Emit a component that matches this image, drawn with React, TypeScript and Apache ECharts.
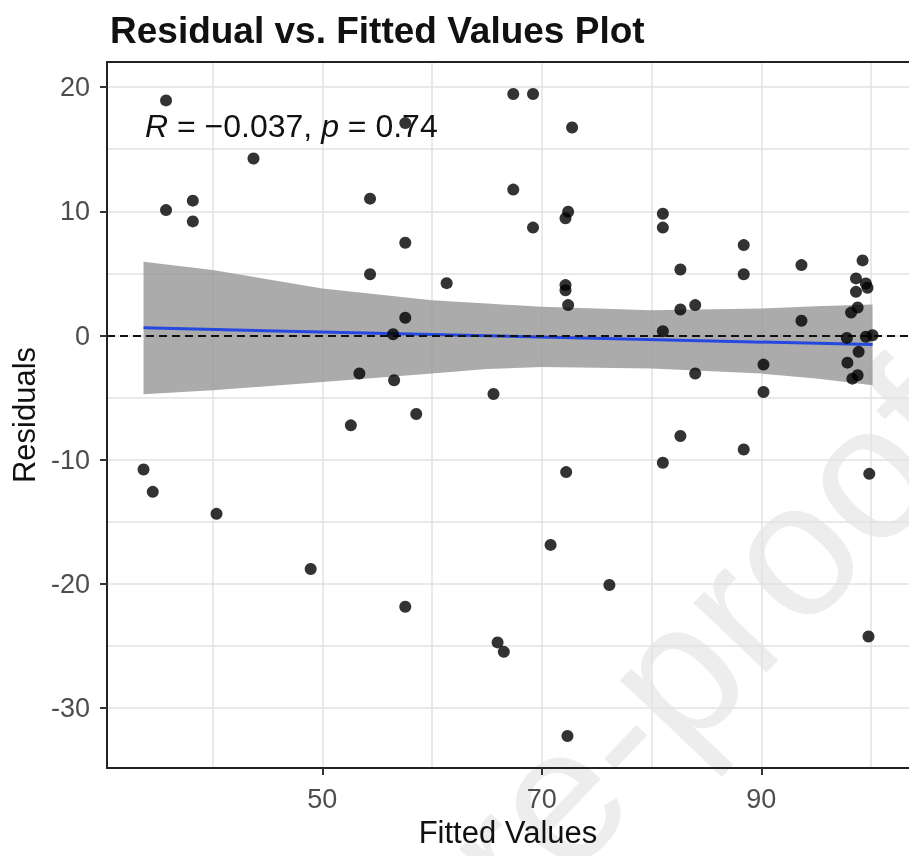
import React, { useEffect, useRef } from 'react';
import * as echarts from 'echarts';

const FONT = "'Liberation Sans', Arial, sans-serif";

const fittedValues = [
  35.76, 35.76, 38.2, 38.2, 43.73, 54.35, 57.56, 57.56, 54.35, 61.33,
  57.56, 56.45, 33.71, 34.55, 40.36, 48.94, 53.38, 52.6, 56.54, 58.56,
  57.56, 67.4, 69.2, 72.76, 67.4, 69.2, 72.4, 72.16, 72.16, 72.16,
  72.4, 81.03, 81.03, 82.63, 82.63, 83.98, 81.03, 88.4, 88.4, 93.66,
  93.66, 99.23, 98.63, 99.53, 99.68, 98.63, 98.78, 98.18, 97.8, 99.53,
  100.14, 65.6, 72.22, 70.8, 76.16, 83.98, 82.63, 81.03, 88.4, 90.2,
  90.2, 98.87, 97.85, 98.3, 98.78, 99.84, 65.97, 66.54, 72.34, 99.77,
];
const residuals = [
  18.93, 10.1, 10.86, 9.19, 14.25, 11.02, 17.1, 7.47, 4.94, 4.22,
  1.43, 0.1, -10.78, -12.58, -14.35, -18.79, -3.06, -7.23, -3.6, -6.32,
  -21.83, 19.44, 19.44, 16.75, 11.75, 8.69, 9.97, 9.44, 4.06, 3.65,
  2.45, 9.81, 8.69, 5.32, 2.1, 2.45, 0.35, 7.28, 4.94, 5.67,
  1.19, 6.05, 4.6, 4.19, 3.85, 3.52, 2.26, 1.85, -0.19, -0.1,
  0.03, -4.7, -10.99, -16.85, -20.08, -3.06, -8.09, -10.24, -9.17, -2.34,
  -4.54, -1.31, -2.18, -3.47, -3.2, -11.13, -24.7, -25.46, -32.23, -24.22,
];

// confidence band of the linear fit
const bandX = [33.71, 40, 50, 60, 65, 70, 80, 90, 95, 100.14];
const bandUpper = [5.94, 5.27, 3.79, 2.85, 2.58, 2.31, 2.04, 2.18, 2.35, 2.5];
const bandLower = [-4.73, -4.41, -3.74, -3.06, -2.7, -2.53, -2.66, -3.06, -3.45, -4.0];

// fitted regression line
const fitX = [33.71, 100.14];
const fitY = [0.62, -0.73];

const xTickValues = [50, 70, 90];
const xGridValues = [40, 50, 60, 70, 80, 90, 100];
const yTickValues = [-30, -20, -10, 0, 10, 20];
const yGridValues = [-30, -25, -20, -15, -10, -5, 0, 5, 10, 15, 20];
const xRange = [30.38, 103.46];
const yRange = [-34.81, 22.02];

const titleText = 'Residual vs. Fitted Values Plot';
const xName = 'Fitted Values';
const yName = 'Residuals';
const statText = '{i|R} = \u22120.037, {i|p} = 0.74';
const watermarkText = 'Journal Pre-proof';

export default function App() {
  const ref = useRef<HTMLDivElement>(null);
  useEffect(() => {
    const chart = echarts.init(ref.current as HTMLDivElement, null, { renderer: 'svg' });
    const points = fittedValues.map((x, i) => [x, residuals[i]]);
    const fitData = fitX.map((x, i) => [x, fitY[i]]);
    const axisColor = '#222';
    const gridColor = '#e2e2e2';
    chart.setOption({
      animation: false,
      title: {
        text: titleText,
        left: 105,
        top: 7,
        textStyle: { fontSize: 37, fontWeight: 'bold', color: '#111', fontFamily: FONT },
      },
      grid: { left: 107, right: -7, top: 62, bottom: 88, containLabel: false },
      xAxis: [
        {
          type: 'value',
          min: xRange[0],
          max: xRange[1],
          position: 'bottom',
          name: xName,
          nameLocation: 'middle',
          nameGap: 49,
          nameTextStyle: { fontSize: 31, color: '#111', fontFamily: FONT },
          axisLine: { show: true, onZero: false, lineStyle: { color: axisColor, width: 2 } },
          axisTick: { show: true, customValues: xTickValues, length: 7, lineStyle: { color: '#333', width: 2 } },
          axisLabel: { customValues: xTickValues, fontSize: 27, color: '#4d4d4d', margin: 17, fontFamily: FONT },
          splitLine: { show: false },
        },
        {
          type: 'value',
          min: xRange[0],
          max: xRange[1],
          position: 'top',
          axisLine: { show: true, onZero: false, lineStyle: { color: axisColor, width: 2 } },
          axisTick: { show: false, customValues: xGridValues },
          axisLabel: { show: false },
          splitLine: { show: true, lineStyle: { color: gridColor, width: 1.5 } },
        },
      ],
      yAxis: [
        {
          type: 'value',
          min: yRange[0],
          max: yRange[1],
          position: 'left',
          name: yName,
          nameLocation: 'middle',
          nameGap: 65,
          nameRotate: 90,
          nameTextStyle: { fontSize: 31, color: '#111', fontFamily: FONT },
          axisLine: { show: true, onZero: false, lineStyle: { color: axisColor, width: 2 } },
          axisTick: { show: true, customValues: yTickValues, length: 7, lineStyle: { color: '#333', width: 2 } },
          axisLabel: { customValues: yTickValues, fontSize: 27, color: '#4d4d4d', margin: 17, fontFamily: FONT },
          splitLine: { show: false },
        },
        {
          type: 'value',
          min: yRange[0],
          max: yRange[1],
          position: 'right',
          axisLine: { show: false },
          axisTick: { show: false, customValues: yGridValues },
          axisLabel: { show: false },
          splitLine: { show: true, lineStyle: { color: gridColor, width: 1.5 } },
        },
      ],
      graphic: [
        {
          type: 'text',
          x: 936,
          y: 398,
          rotation: 0.81,
          z: -10,
          silent: true,
          style: {
            text: watermarkText,
            fontSize: 191,
            fontFamily: FONT,
            fill: '#ededed',
            align: 'right',
            verticalAlign: 'middle',
          },
        },
        {
          type: 'text',
          x: 145,
          y: 126,
          z: 100,
          silent: true,
          style: {
            text: statText,
            fontSize: 32,
            fontFamily: FONT,
            fill: '#111',
            align: 'left',
            verticalAlign: 'middle',
            rich: {
              i: { fontStyle: 'italic', fontSize: 32, fontFamily: FONT, fill: '#111' },
            },
          },
        },
      ],
      series: [
        {
          type: 'custom',
          xAxisIndex: 0,
          yAxisIndex: 0,
          silent: true,
          z: 2,
          data: [[bandX[0], bandUpper[0]]],
          renderItem: (params: any, api: any) => {
            const pts: number[][] = [];
            for (let i = 0; i < bandX.length; i++) pts.push(api.coord([bandX[i], bandUpper[i]]));
            for (let i = bandX.length - 1; i >= 0; i--) pts.push(api.coord([bandX[i], bandLower[i]]));
            return {
              type: 'polygon',
              shape: { points: pts },
              style: { fill: 'rgba(150,150,150,0.8)' },
            };
          },
        },
        {
          type: 'line',
          xAxisIndex: 0,
          yAxisIndex: 0,
          data: fitData,
          symbol: 'none',
          silent: true,
          z: 3,
          lineStyle: { color: '#2448e0', width: 3 },
          markLine: {
            silent: true,
            symbol: 'none',
            z: 4,
            label: { show: false },
            lineStyle: { color: '#111', width: 2, type: [8, 5] },
            data: [{ yAxis: 0 }],
          },
        },
        {
          type: 'scatter',
          xAxisIndex: 0,
          yAxisIndex: 0,
          data: points,
          symbol: 'circle',
          symbolSize: 12,
          z: 5,
          itemStyle: { color: '#000' },
        },
      ],
    });
    return () => chart.dispose();
  }, []);
  return <div ref={ref} style={{ position: 'fixed', left: 0, top: 0, width: 909, height: 856 }} />;
}
